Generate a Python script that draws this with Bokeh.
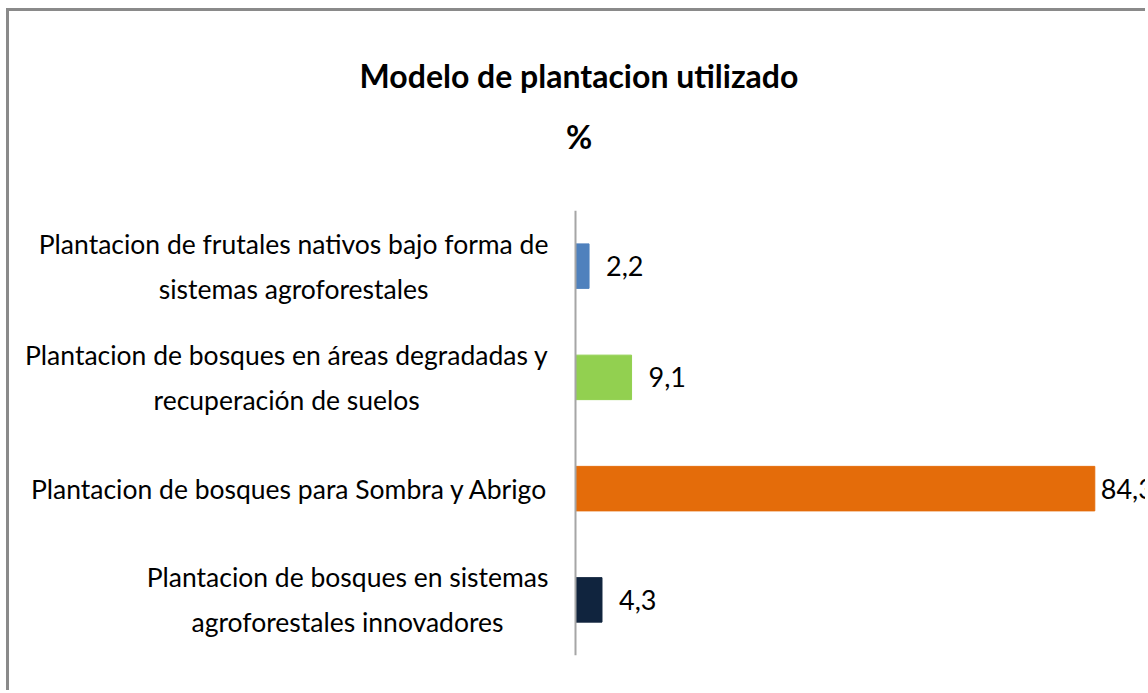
from bokeh.plotting import figure
from bokeh.models import ColumnDataSource, FactorRange, Range1d, Span, Title
from bokeh.core.properties import value
from bokeh.embed import file_html
from bokeh.resources import INLINE

# ---- data ----
categories = [
    "Plantacion de bosques en sistemas\nagroforestales innovadores",
    "Plantacion de bosques para Sombra y Abrigo",
    "Plantacion de bosques en áreas degradadas y\nrecuperación de suelos",
    "Plantacion de frutales nativos bajo forma de\nsistemas agroforestales",
]
values = [4.3, 84.3, 9.1, 2.2]
colors = ["#10243e", "#e46c0a", "#92d050", "#4f81bd"]
title_lines = ["Modelo de plantacion utilizado", "%"]

FONT = "Lato"

labels = [f"{v:.1f}".replace(".", ",") for v in values]
offsets = [17 if v < 50 else 6 for v in values]

src = ColumnDataSource(dict(cat=categories, val=values, color=colors,
                            lab=labels, off=offsets))

W, H = 1139, 682
px_per_unit = 6.16
frame_left_px = 566  # canvas x of value 0
x_start = -frame_left_px / px_per_unit
x_end = (W - frame_left_px) / px_per_unit

p = figure(width=W, height=H, output_backend="svg", toolbar_location=None,
           y_range=FactorRange(factors=categories, range_padding=0),
           x_range=Range1d(x_start, x_end),
           x_axis_location=None, y_axis_location=None,
           min_border_left=0, min_border_right=0,
           min_border_top=199, min_border_bottom=38)
p.grid.visible = False
p.outline_line_color = None
p.background_fill_color = "white"
p.border_fill_color = "white"
p.styles = {"border-top": "3px solid #8a8a8a", "border-left": "3px solid #8a8a8a",
            "margin-left": "6px", "margin-top": "8px"}

p.hbar(y="cat", right="val", left=0, height=0.4, color="color", source=src)

p.add_layout(Span(location=0, dimension="height", line_color="#a6a6a6", line_width=2))

# category labels (centered lines, right edge near the axis)
p.text(x=-4.4, y="cat", text="cat", source=src, anchor="center_right",
       text_align="center", text_baseline="middle", text_font=value(FONT),
       text_font_size="26.5px", text_line_height=1.4, text_color="#000000")

# value labels
p.text(x="val", y="cat", text="lab", x_offset="off", source=src,
       text_align="left", text_baseline="middle", text_font=value(FONT),
       text_font_size="27px", text_color="#000000")

# spacer between plot area and the title block
p.add_layout(Title(text=" ", text_font_size="1px", standoff=42), "above")
# title lines: later additions are stacked further from the plot
for line in reversed(title_lines):
    p.add_layout(Title(text=line, align="center", text_font=FONT,
                       text_font_size="32px", text_font_style="bold",
                       text_color="#000000", standoff=20), "above")

open("out.html", "w").write(file_html(p, INLINE))
